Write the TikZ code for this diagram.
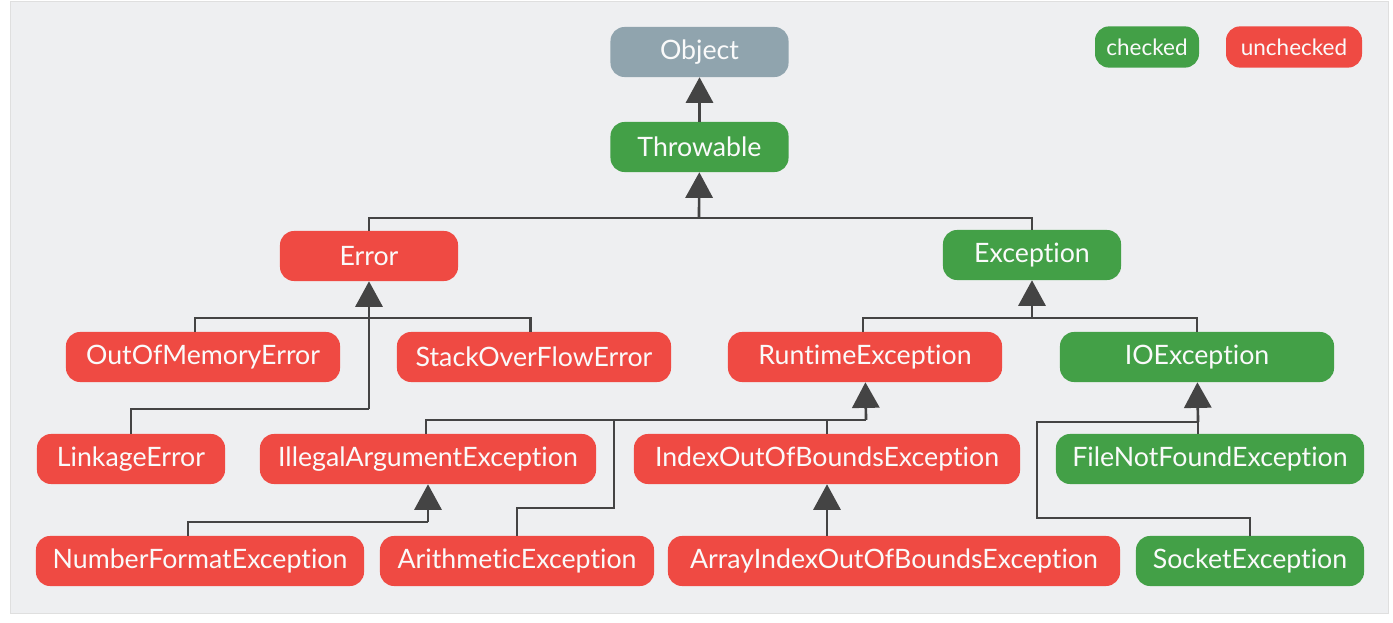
\documentclass[tikz,border=0pt]{standalone}
\usepackage{fontspec}
\setmainfont{Lato}[Ligatures=NoCommon]
\usepackage{tikz}
\usetikzlibrary{arrows.meta, positioning, backgrounds}
\definecolor{chkgreen}{HTML}{43A047}
\definecolor{unchkred}{HTML}{EF4A43}
\definecolor{objgray}{HTML}{90A4AE}
\definecolor{linkgray}{HTML}{444444}
\definecolor{panelbg}{HTML}{EEEFF1}

\begin{document}
\begin{tikzpicture}[
  x=0.025cm, y=-0.025cm,
  font=\fontsize{19}{21}\selectfont,
  cls/.style={rounded corners=0.35cm, minimum height=1.25cm,
              align=center, text=white!96!gray, inner sep=0pt},
  chk/.style={cls, fill=chkgreen},
  unchk/.style={cls, fill=unchkred},
  root/.style={cls, fill=objgray},
  legend/.style={font=\fontsize{16}{18}\selectfont, minimum height=1.03cm},
  link/.style={draw=linkgray, line width=1.9pt},
  arr/.style={link, -{Triangle[width=0.68cm, length=0.64cm]}}
]
\fill[white] (0,0) rectangle (1393,623);
\filldraw[fill=panelbg, draw=gray!25, line width=0.6pt] (10,1) rectangle (1388,613);

\node[root, minimum width=4.45cm]   (object)    at (699.5, 52)  {Object};
\node[chk, minimum width=4.45cm]    (throwable) at (699.5, 147) {Throwable};
\node[chk, legend, minimum width=2.6cm]   (checked)   at (1147, 47) {checked};
\node[unchk, legend, minimum width=3.4cm] (unchecked) at (1294, 47) {unchecked};

\node[unchk, minimum width=4.45cm] (error)     at (369, 256)  {Error};
\node[chk, minimum width=4.45cm]   (exception) at (1032, 255) {Exception};

\node[unchk, minimum width=6.85cm] (oom) at (203, 357) {OutOfMemoryError};
\node[unchk, minimum width=6.85cm] (soe) at (534, 357) {StackOverFlowError};
\node[unchk, minimum width=6.85cm] (rte) at (865, 357) {RuntimeException};
\node[chk, minimum width=6.85cm]   (ioe) at (1197, 357) {IOException};

\node[unchk, minimum width=4.7cm]  (linkage) at (131, 459)  {LinkageError};
\node[unchk, minimum width=8.4cm]  (iae)     at (428, 459)  {IllegalArgumentException};
\node[unchk, minimum width=9.65cm] (ioobe)   at (827, 459)  {IndexOutOfBoundsException};
\node[chk, minimum width=7.7cm]    (fnfe)    at (1210, 459) {FileNotFoundException};

\node[unchk, minimum width=8.2cm]  (nfe)    at (200, 561)  {NumberFormatException};
\node[unchk, minimum width=6.85cm] (arith)  at (517, 561)  {ArithmeticException};
\node[unchk, minimum width=11.3cm] (aioobe) at (894, 561)  {ArrayIndexOutOfBoundsException};
\node[chk, minimum width=5.7cm]    (sock)   at (1250, 561) {SocketException};

\coordinate (tjoin) at (699, 218);
\coordinate (ejoin) at (369, 318);
\coordinate (ljoin) at (369, 409);
\coordinate (xjoin) at (1032, 318);
\coordinate (rjoin) at (866, 420);
\coordinate (abend) at (614, 508);
\coordinate (njoin) at (428, 522);
\coordinate (ijoin) at (1198, 422);
\coordinate (sjoin) at (1037, 518);

\draw[arr] (throwable) -- (object);

\draw[link] (error.north) |- (tjoin) -| (exception.north);
\draw[arr] (tjoin) -- (throwable);

\draw[link] ([xshift=-0.2cm]oom.north) |- (ejoin) -| ([xshift=-0.08cm]soe.north);
\draw[link] (linkage.north) |- (ljoin);
\draw[arr] (ljoin) -- (error);

\draw[link] ([xshift=-0.05cm]rte.north) |- (xjoin) -| (ioe.north);
\draw[arr] (xjoin) -- (exception);

\draw[link] ([xshift=-0.05cm]iae.north) |- (rjoin);
\draw[link] (ioobe.north) -- (ioobe.north |- rjoin);
\draw[link] (arith.north) |- (abend) |- (rjoin);
\draw[arr] (rjoin) -- (rte);

\draw[link] ([xshift=-0.3cm]nfe.north) |- (njoin);
\draw[arr] (njoin) -- (iae);

\draw[arr] (aioobe.north -| ioobe) -- (ioobe);

\draw[link] (fnfe.north -| ijoin) -- (ijoin);
\draw[link] (sock.north) |- (sjoin) |- (ijoin);
\draw[arr] (ijoin) -- (ioe);
\end{tikzpicture}
\end{document}
